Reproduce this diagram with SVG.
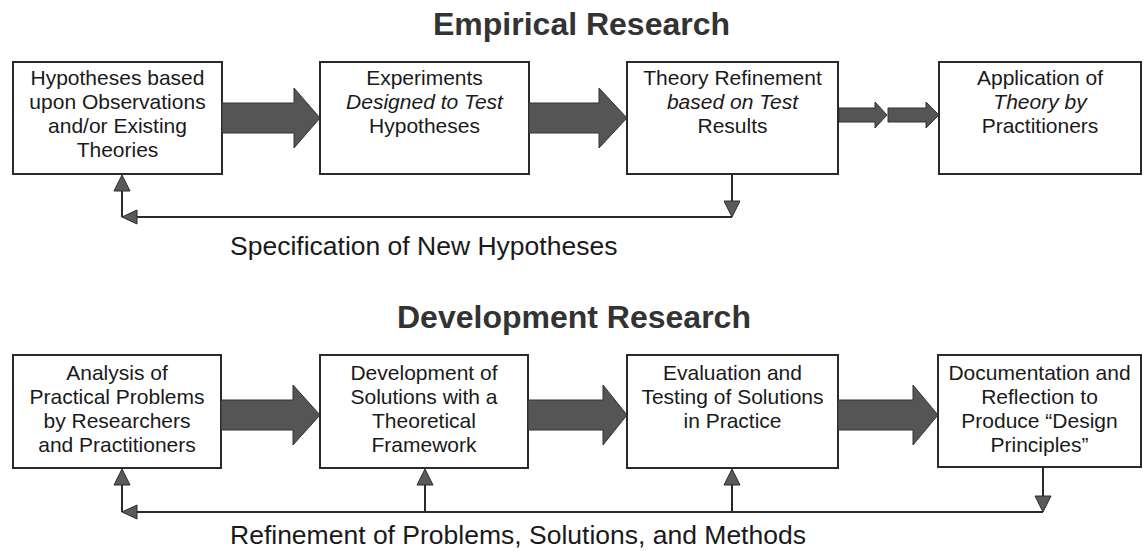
<svg xmlns="http://www.w3.org/2000/svg" width="1143" height="551" viewBox="0 0 1143 551">
  <style>
    .box { fill: #ffffff; stroke: #2a2a2a; stroke-width: 2; }
    .txt { font-family: "Liberation Sans", Arial, sans-serif; font-size: 21px; fill: #1a1a1a; text-anchor: middle; }
    .it { font-style: italic; }
    .title { font-family: "Liberation Sans", Arial, sans-serif; font-size: 32px; font-weight: bold; fill: #333333; }
    .sub { font-family: "Liberation Sans", Arial, sans-serif; font-size: 26.5px; fill: #1a1a1a; }
    .big { fill: #555555; stroke: #333333; stroke-width: 1; }
    .line { fill: none; stroke: #2a2a2a; stroke-width: 2; }
    .head { fill: #5a5a5a; stroke: #2a2a2a; stroke-width: 1; }
  </style>

  <rect width="1143" height="551" fill="#ffffff"/>

  <!-- section titles -->
  <text class="title" x="433" y="35">Empirical Research</text>
  <text class="title" x="397" y="328">Development Research</text>

  <!-- top row: empirical research -->
  <g id="hypotheses">
    <rect class="box" x="13" y="62" width="209" height="112"/>
    <text class="txt" x="117.5" y="85">Hypotheses based</text>
    <text class="txt" x="117.5" y="109">upon Observations</text>
    <text class="txt" x="117.5" y="133">and/or Existing</text>
    <text class="txt" x="117.5" y="157">Theories</text>
  </g>
  <g id="experiments">
    <rect class="box" x="320" y="62" width="209" height="112"/>
    <text class="txt" x="424.5" y="85">Experiments</text>
    <text class="txt it" x="424.5" y="109">Designed to Test</text>
    <text class="txt" x="424.5" y="133">Hypotheses</text>
  </g>
  <g id="theory-refinement">
    <rect class="box" x="627" y="62" width="211" height="112"/>
    <text class="txt" x="732.5" y="85">Theory Refinement</text>
    <text class="txt it" x="732.5" y="109">based on Test</text>
    <text class="txt" x="732.5" y="133">Results</text>
  </g>
  <g id="application">
    <rect class="box" x="939" y="62" width="202" height="112"/>
    <text class="txt" x="1040" y="85">Application of</text>
    <text class="txt it" x="1040" y="109">Theory by</text>
    <text class="txt" x="1040" y="133">Practitioners</text>
  </g>

  <!-- bottom row: development research -->
  <g id="analysis">
    <rect class="box" x="13" y="355" width="208" height="113"/>
    <text class="txt" x="117" y="380">Analysis of</text>
    <text class="txt" x="117" y="404">Practical Problems</text>
    <text class="txt" x="117" y="428">by Researchers</text>
    <text class="txt" x="117" y="452">and Practitioners</text>
  </g>
  <g id="development">
    <rect class="box" x="320" y="355" width="208" height="113"/>
    <text class="txt" x="424" y="380">Development of</text>
    <text class="txt" x="424" y="404">Solutions with a</text>
    <text class="txt" x="424" y="428">Theoretical</text>
    <text class="txt" x="424" y="452">Framework</text>
  </g>
  <g id="evaluation">
    <rect class="box" x="627" y="355" width="211" height="113"/>
    <text class="txt" x="732.5" y="380">Evaluation and</text>
    <text class="txt" x="732.5" y="404">Testing of Solutions</text>
    <text class="txt" x="732.5" y="428">in Practice</text>
  </g>
  <g id="documentation">
    <rect class="box" x="938" y="355" width="203" height="112"/>
    <text class="txt" x="1039.5" y="380">Documentation and</text>
    <text class="txt" x="1039.5" y="404">Reflection to</text>
    <text class="txt" x="1039.5" y="428">Produce “Design</text>
    <text class="txt" x="1039.5" y="452">Principles”</text>
  </g>

  <!-- connectors -->
  <g id="connectors">
    <!-- block arrows, top row -->
    <polygon class="big" points="222,103 294,103 294,88 320,118 294,148 294,133 222,133"/>
    <polygon class="big" points="529,103 599,103 599,88 627,118 599,148 599,133 529,133"/>
    <polygon class="big" points="839,108 875,108 875,102 887,115 875,128 875,122 839,122"/>
    <polygon class="big" points="888,108 926,108 926,102 939,115 926,128 926,122 888,122"/>

    <!-- block arrows, bottom row -->
    <polygon class="big" points="221,400 293,400 293,385 320,415 293,445 293,430 221,430"/>
    <polygon class="big" points="528,400 603,400 603,385 627,415 603,445 603,430 528,430"/>
    <polygon class="big" points="838,400 913,400 913,385 938,415 913,445 913,430 838,430"/>

    <!-- feedback loop: specification of new hypotheses -->
    <polyline class="line" points="732,174 732,201"/>
    <polygon class="head" points="724,201 740,201 732,217"/>
    <polyline class="line" points="732,217 136,217"/>
    <polygon class="head" points="122,217 137,210 137,224"/>
    <polyline class="line" points="122,217 122,191"/>
    <polygon class="head" points="114,191 130,191 122,175"/>

    <!-- feedback loop: refinement of problems, solutions, and methods -->
    <polyline class="line" points="1043,467 1043,496"/>
    <polygon class="head" points="1035,496 1051,496 1043,512"/>
    <polyline class="line" points="1043,512 136,512"/>
    <polygon class="head" points="122,512 137,505 137,519"/>
    <polyline class="line" points="122,512 122,485"/>
    <polygon class="head" points="114,485 130,485 122,469"/>
    <polyline class="line" points="425,512 425,485"/>
    <polygon class="head" points="417,485 433,485 425,469"/>
    <polyline class="line" points="732,512 732,485"/>
    <polygon class="head" points="724,485 740,485 732,469"/>
  </g>

  <!-- loop captions -->
  <text class="sub" x="230" y="255">Specification of New Hypotheses</text>
  <text class="sub" x="230" y="544">Refinement of Problems, Solutions, and Methods</text>
</svg>
